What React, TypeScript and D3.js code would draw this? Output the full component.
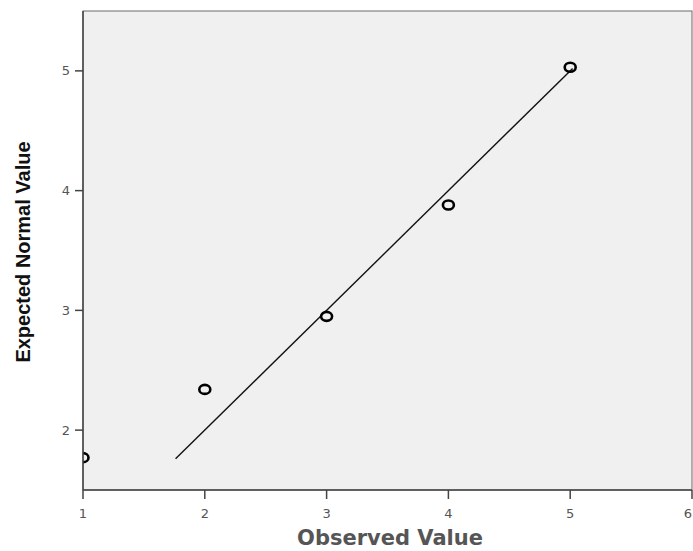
import React from "react";
import * as d3 from "d3";

const observed = [1, 2, 3, 4, 5];
const expected = [1.77, 2.34, 2.95, 3.88, 5.03];
const xTicks = [1, 2, 3, 4, 5, 6];
const yTicks = [2, 3, 4, 5];
const refLine = [1.76, 5.02];

const W = 693;
const H = 551;
const plot = { left: 83, top: 11, right: 692, bottom: 490 };

export default function App() {
  const x = d3.scaleLinear().domain([1, 6]).range([plot.left, plot.right]);
  const y = d3.scaleLinear().domain([1.5, 5.5]).range([plot.bottom, plot.top]);

  const line = d3
    .line<number>()
    .x(d => x(d))
    .y(d => y(d));

  return (
    <div style={{ position: "absolute", left: 0, top: 0 }}>
      <svg width={W} height={H} style={{ display: "block", background: "#fff" }}>
        <defs>
          <clipPath id="plotClip">
            <rect x={plot.left} y={plot.top} width={plot.right - plot.left} height={plot.bottom - plot.top} />
          </clipPath>
        </defs>

        {/* plot area */}
        <rect
          x={plot.left}
          y={plot.top}
          width={plot.right - plot.left}
          height={plot.bottom - plot.top}
          fill="#f0f0f0"
          stroke="#6a6a6a"
          strokeWidth={1}
        />

        <g clipPath="url(#plotClip)">
          <path d={line(refLine) || ""} stroke="#111" strokeWidth={1.4} fill="none" />
          {observed.map((o, i) => (
            <ellipse
              key={i}
              cx={x(o)}
              cy={y(expected[i])}
              rx={5.5}
              ry={4.5}
              fill="none"
              stroke="#000"
              strokeWidth={2.6}
            />
          ))}
        </g>

        {/* y axis */}
        <line x1={plot.left} x2={plot.left} y1={plot.top} y2={plot.bottom} stroke="#444" strokeWidth={1.5} />
        {yTicks.map(t => (
          <g key={t}>
            <line x1={plot.left - 8} x2={plot.left} y1={y(t)} y2={y(t)} stroke="#444" strokeWidth={1.5} />
            <text
              x={plot.left - 13}
              y={y(t)}
              dy="0.35em"
              textAnchor="end"
              fontSize={13}
              fontFamily="DejaVu Sans, sans-serif"
              fill="#555"
            >
              {t}
            </text>
          </g>
        ))}

        {/* x axis */}
        <line x1={plot.left} x2={plot.right} y1={plot.bottom} y2={plot.bottom} stroke="#444" strokeWidth={1.5} />
        {xTicks.map(t => (
          <g key={t}>
            <line x1={x(t)} x2={x(t)} y1={plot.bottom} y2={plot.bottom + 9} stroke="#444" strokeWidth={1.5} />
            <text
              x={Math.min(x(t), plot.right - 4)}
              y={plot.bottom + 28}
              textAnchor="middle"
              fontSize={13}
              fontFamily="DejaVu Sans, sans-serif"
              fill="#555"
            >
              {t}
            </text>
          </g>
        ))}

        <text
          x={390}
          y={545}
          textAnchor="middle"
          fontSize={21}
          fontWeight="bold"
          fontFamily="DejaVu Sans, sans-serif"
          fill="#555"
        >
          Observed Value
        </text>

        <text
          transform="translate(30, 252) rotate(-90)"
          textAnchor="middle"
          fontSize={20}
          fontWeight="bold"
          fontFamily="Liberation Sans Narrow, Liberation Sans, Arial, sans-serif"
          fill="#111"
        >
          Expected Normal Value
        </text>
      </svg>
    </div>
  );
}
